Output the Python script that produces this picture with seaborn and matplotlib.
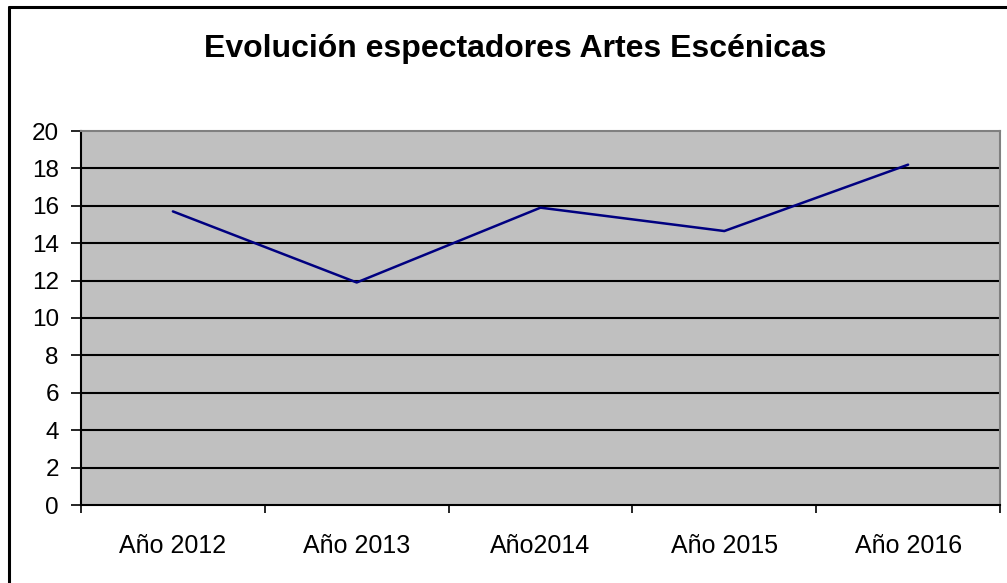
import matplotlib
matplotlib.use("Agg")
import matplotlib.pyplot as plt
from matplotlib.lines import Line2D
import seaborn as sns
import pandas as pd

categories = ["Año 2012", "Año 2013", "Año2014", "Año 2015", "Año 2016"]
values = [15.7, 11.9, 15.9, 14.65, 18.2]
yticks = [0, 2, 4, 6, 8, 10, 12, 14, 16, 18, 20]
title = "Evolución espectadores Artes Escénicas"

sns.set_theme(style="white")
plt.rcParams['font.family'] = ['Liberation Sans', 'DejaVu Sans']

W, H = 1007, 583
fig = plt.figure(figsize=(W / 100, H / 100), dpi=100)
ax = fig.add_axes([81 / W, 78 / H, (1000 - 81) / W, (505 - 131) / H])
ax.set_facecolor("#C0C0C0")

df = pd.DataFrame({"cat": categories, "val": values})
sns.lineplot(data=df, x="cat", y="val", ax=ax, color="#000080", linewidth=1.8, sort=False)

ax.set_xlim(-0.5, len(categories) - 0.5)
ax.set_ylim(0, 20)
ax.set_yticks(yticks)
ax.set_yticklabels([str(v) for v in yticks])
ax.set_xticks(range(len(categories)))
ax.set_xticklabels(categories)
ax.set_xticks([i - 0.5 for i in range(len(categories) + 1)], minor=True)
ax.set_xlabel("")
ax.set_ylabel("")

for v in yticks[1:-1]:
    ax.axhline(v, color="black", linewidth=1.5, zorder=1)

ax.tick_params(axis="x", which="major", length=0, pad=21, labelsize=18, colors="black")
ax.tick_params(axis="x", which="minor", length=6, width=1.2, direction="out", color="black", bottom=True)
ax.tick_params(axis="y", which="major", length=7, width=1.2, direction="out", pad=9, labelsize=17.5,
               colors="black", left=True)

for s in ["left", "bottom"]:
    ax.spines[s].set_color("black")
    ax.spines[s].set_linewidth(1.5)
for s in ["top", "right"]:
    ax.spines[s].set_visible(True)
    ax.spines[s].set_color("#808080")
    ax.spines[s].set_linewidth(1.5)

fig.text(515 / W, 1 - 49 / H, title, ha="center", va="center", fontsize=23, fontweight="bold", color="black")

# figure border (top and left visible)
fig.add_artist(Line2D([9 / W, 1.0], [1 - 7 / H, 1 - 7 / H], transform=fig.transFigure, color="black", linewidth=2.2))
fig.add_artist(Line2D([9 / W, 9 / W], [0, 1 - 7 / H], transform=fig.transFigure, color="black", linewidth=2.2))

fig.savefig("out.png", dpi=100)
